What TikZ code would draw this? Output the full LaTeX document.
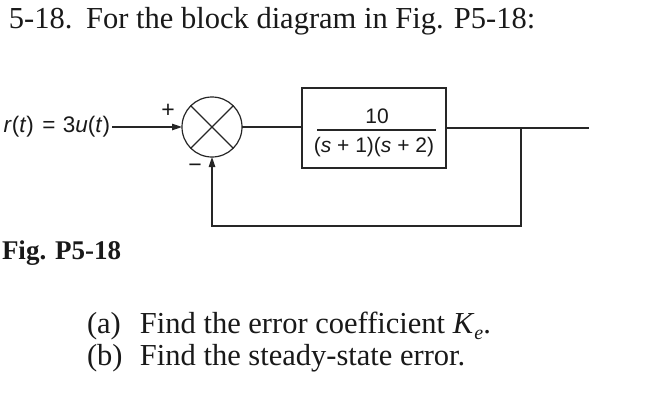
\documentclass[tikz,border=0pt]{standalone}
\usepackage{fontspec}
\setmainfont{Liberation Serif}
\newfontfamily\hv{Liberation Sans}
\usetikzlibrary{arrows.meta}
\begin{document}
\begin{tikzpicture}[x=1pt,y=-1pt,
  every node/.style={inner sep=0pt, outer sep=0pt, text=black!90},
  txt/.style={font=\fontsize{30.5}{36}\selectfont, anchor=base west},
  lbl/.style={font=\hv\fontsize{21}{24}\selectfont},
  wire/.style={line width=1.2pt, draw=black!85},
  arr/.style={wire, -{Triangle[length=10pt,width=6.5pt]}},
  sumnode/.style={circle, draw=black!85, line width=1.2pt, minimum size=60pt},
  blockbox/.style={rectangle, draw=black!85, line width=1.2pt, minimum width=144pt, minimum height=80pt}]
\useasboundingbox (0,0) rectangle (670,402);

% texts
\node[txt] (title) at (9,28) {5-18.\hspace{0.45em}For the block diagram in Fig. P5-18:};
\node[font=\bfseries\fontsize{27}{30}\selectfont, anchor=base west] (fig) at (2,259) {Fig. P5-18};
\node[txt] (qa) at (87,333) {\makebox[53pt][l]{(a)}Find the error coefficient \textit{K}\raisebox{-0.22em}{\fontsize{20}{20}\selectfont\textit{e}}.};
\node[txt] (qb) at (87,365) {\makebox[53pt][l]{(b)}Find the steady-state error.};

% diagram
\node[lbl, font=\hv\fontsize{22.5}{26}\selectfont, anchor=east] (r) at (110,127) {\textit{r}(\textit{t})\hspace{0.1em} = \hspace{0.05em}3\textit{u}(\textit{t})};
\node[sumnode] (sum) at (212,127) {};
\draw[wire] (sum.north west) -- (sum.south east);
\draw[wire] (sum.north east) -- (sum.south west);
\node[lbl, font=\hv\fontsize{23}{26}\selectfont] (plus) at (168,111) {+};
\node[lbl, font=\hv\fontsize{23}{26}\selectfont] (minus) at (195,168) {−};

\node[blockbox] (blk) at (374,128) {};
\node[lbl] (num) at (377,116) {10};
\node[lbl] (den) at (374,147) {(\textit{s} + 1)(\textit{s} + 2)};
\coordinate (barl) at (317,130);
\coordinate (barr) at (436,130);
\draw[wire] (barl) -- (barr);

\coordinate (j) at (521,128);
\coordinate (out) at (589,128);
\coordinate (fbr) at (521,226);

\draw[arr] ([xshift=2pt]r.east) -- (sum.west);
\draw[wire] (sum.east) -- (sum.east -| blk.west);
\draw[wire] (blk.east) -- (out);
\draw[arr] (j) -- (fbr) -| (sum.south);
\end{tikzpicture}
\end{document}
